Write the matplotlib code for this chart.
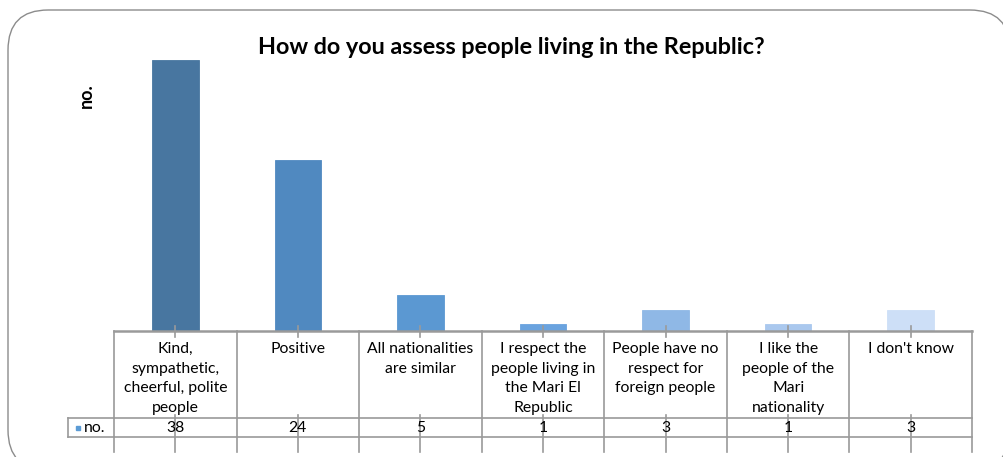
import matplotlib.pyplot as plt
import matplotlib.patches as mpatches
import numpy as np

categories = [
    "Kind,\nsympathetic,\ncheerful, polite\npeople",
    "Positive",
    "All nationalities\nare similar",
    "I respect the\npeople living in\nthe Mari El\nRepublic",
    "People have no\nrespect for\nforeign people",
    "I like the\npeople of the\nMari\nnationality",
    "I don't know",
]
values = [38, 24, 5, 1, 3, 1, 3]
series_name = "no."
title = "How do you assess people living in the Republic?"
colors = ["#4876a0", "#5089c0", "#5b98d2", "#6aa3df", "#8fb8e6", "#aac8ee", "#cddff7"]

plt.rcParams["font.family"] = ["Lato", "DejaVu Sans"]

W, H = 1004, 457
fig = plt.figure(figsize=(W / 100, H / 100), dpi=100)

def fx(px):
    return px / W

def fy(py):
    return 1 - py / H

# rounded chart frame
frame = mpatches.FancyBboxPatch((fx(8), fy(470)), fx(1010) - fx(8), fy(10) - fy(470),
                                boxstyle="round,pad=0,rounding_size=0.04",
                                transform=fig.transFigure, fc="white", ec="#8c8c8c", lw=1.0,
                                mutation_aspect=W / H, zorder=-10)
fig.add_artist(frame)

left, right, base, top = 114, 972, 331, 46
ax = fig.add_axes([fx(left), fy(base), fx(right) - fx(left), fy(top) - fy(base)])
ax.set_facecolor("none")
x = np.arange(len(values))
ax.bar(x, values, width=0.38, color=colors, edgecolor=colors, lw=0.6)
ax.set_xlim(-0.5, len(values) - 0.5)
ax.set_ylim(0, 40)
for s in ["top", "right", "left"]:
    ax.spines[s].set_visible(False)
ax.spines["bottom"].set_color("#9a9a9a")
ax.spines["bottom"].set_linewidth(1.8)
ax.set_xticks([])
ax.set_yticks([])

fig.text(fx(253 + 517 / 2), fy(47), title, ha="center", va="center",
         fontsize=16.8, fontweight="bold")
fig.text(fx(86), fy(96), "no.", rotation=90, ha="center", va="center",
         fontsize=13, fontweight="bold")

# data table below the axis
axh = base - top
def ty(py):
    return (base - py) / axh

tr = ax.get_xaxis_transform()
row1, row2, tick_end = 418, 437, 452
lc = "#9a9a9a"
for i in range(len(values) + 1):
    xb = i - 0.5
    ax.plot([xb, xb], [ty(base), ty(tick_end)], transform=tr, color=lc, lw=1.2, clip_on=False)
for i in range(len(values)):
    ax.plot([i, i], [ty(base - 5), ty(base + 6)], transform=tr, color=lc, lw=1.2, clip_on=False)
    ax.plot([i, i], [ty(row1 - 3), ty(tick_end)], transform=tr, color=lc, lw=1.2, clip_on=False)
    ax.text(i, ty(base + 11), categories[i], transform=tr, ha="center", va="top",
            fontsize=11.3, linespacing=1.52)
    ax.text(i, ty((row1 + row2) / 2 + 1), str(values[i]), transform=tr, ha="center",
            va="center", fontsize=11.3)
for py in (row1, row2):
    ax.plot([-0.5, len(values) - 0.5], [ty(py), ty(py)], transform=tr, color=lc, lw=1.2,
            clip_on=False)

# header cell with legend key
fig.add_artist(plt.Line2D([fx(68), fx(left)], [fy(row1), fy(row1)], color=lc, lw=1.2))
fig.add_artist(plt.Line2D([fx(68), fx(left)], [fy(row2), fy(row2)], color=lc, lw=1.2))
fig.add_artist(plt.Line2D([fx(68), fx(68)], [fy(row1), fy(row2)], color=lc, lw=1.2))
fig.add_artist(mpatches.Rectangle((fx(76), fy(430)), fx(4), fy(426) - fy(430),
                                  transform=fig.transFigure, color="#5b9bd5"))
fig.text(fx(84), fy((row1 + row2) / 2 + 1), series_name, ha="left", va="center", fontsize=11.3)

fig.savefig("out.png", dpi=100)
